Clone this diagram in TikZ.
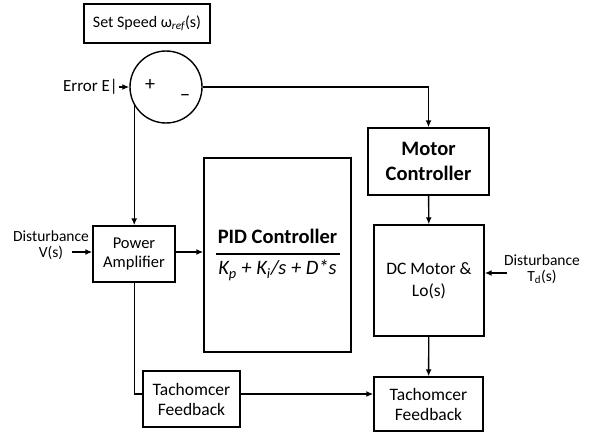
\documentclass[tikz,border=0pt]{standalone}
\usepackage{fontspec}
\setmainfont{Carlito}
\usetikzlibrary{arrows.meta,positioning,calc}

\begin{document}
\begin{tikzpicture}[x=1pt,y=-1pt,
  blk/.style={draw,line width=1.4pt,align=center,inner sep=2pt},
  lbl/.style={align=center,inner sep=1pt,font=\fontsize{15.5}{16}\selectfont},
  wire/.style={line width=1.4pt},
  arr/.style={-{Latex[length=7pt,width=6pt]},line width=1.4pt}
]
  \useasboundingbox (0,0) rectangle (593,433);
  % blocks
  \node[blk,minimum width=126pt,minimum height=39pt,font=\fontsize{16}{17}\selectfont] (setspeed) at (147,23.5) {Set Speed ω\textsubscript{\itshape ref}(s)};
  \node[draw,circle,line width=1.4pt,minimum size=72pt,inner sep=0pt] (sum) at (166,87) {};
  \node[font=\fontsize{20}{20}\selectfont,inner sep=0pt] (plus) at ([xshift=-16pt,yshift=2pt]sum.center) {+};
  \node[font=\fontsize{20}{20}\selectfont,inner sep=0pt] (minus) at ([xshift=19pt,yshift=-11pt]sum.center) {−};
  \node[blk,minimum width=121pt,minimum height=67pt,font=\bfseries\fontsize{20.5}{25}\selectfont] (motorctrl) at (428.5,161.5) {Motor\\Controller};
  \node[blk,minimum width=147pt,minimum height=194pt,font=\fontsize{20.5}{22}\selectfont] (pid) at (277.5,255) {\bfseries PID Controller\\[9pt]
    \itshape K\textsubscript{p} + K\textsubscript{i}/s + D*s};
  \draw[wire] ([xshift=-62pt,yshift=1pt]pid.center) -- ([xshift=62pt,yshift=1pt]pid.center);
  \node[blk,minimum width=82pt,minimum height=56pt,font=\fontsize{16.5}{19}\selectfont] (amp) at (134,254) {Power\\Amplifier};
  \node[blk,minimum width=110pt,minimum height=111pt,font=\fontsize{17.5}{22}\selectfont] (dcmotor) at (429,280.5) {DC Motor \&\\Lo(s)};
  \node[blk,minimum width=97pt,minimum height=56pt,font=\fontsize{17.5}{20}\selectfont] (tachA) at (191.5,399) {Tachomcer\\Feedback};
  \node[blk,minimum width=109pt,minimum height=54pt,font=\fontsize{17.5}{20}\selectfont] (tachB) at (428.5,404) {Tachomcer\\Feedback};
  % outside labels
  \node[lbl,anchor=east,font=\fontsize{17}{18}\selectfont] (errlbl) at (119,87) {Error E|};
  \node[lbl] (vlbl) at (51,245) {Disturbance\\V(s)};
  \coordinate (vin) at (72,252);
  \node[lbl] (tdlbl) at (542,269) {Disturbance\\T\textsubscript{d}(s)};
  \coordinate (tdin) at (507,273);
  % connectors
  \draw[arr] (errlbl) -- (sum);
  \draw[arr] (sum.east) -| (motorctrl.north);
  \draw[arr] (sum.210) -- (sum.210 |- amp.north);
  \draw[arr] (vin) -- (vin -| amp.west);
  \draw[arr] ([yshift=2pt]amp.east) -- ([yshift=2pt]amp.east -| pid.west);
  \draw[arr] (motorctrl) -- (dcmotor);
  \draw[arr] (tdin) -- (tdin -| dcmotor.east);
  \draw[arr] (dcmotor) -- (tachB);
  \draw[wire] (sum.210 |- amp.south) |- ([yshift=5pt]tachA.west);
  \draw[arr] ([yshift=5pt]tachA.east) -- ([yshift=5pt]tachA.east -| tachB.west);
\end{tikzpicture}
\end{document}
